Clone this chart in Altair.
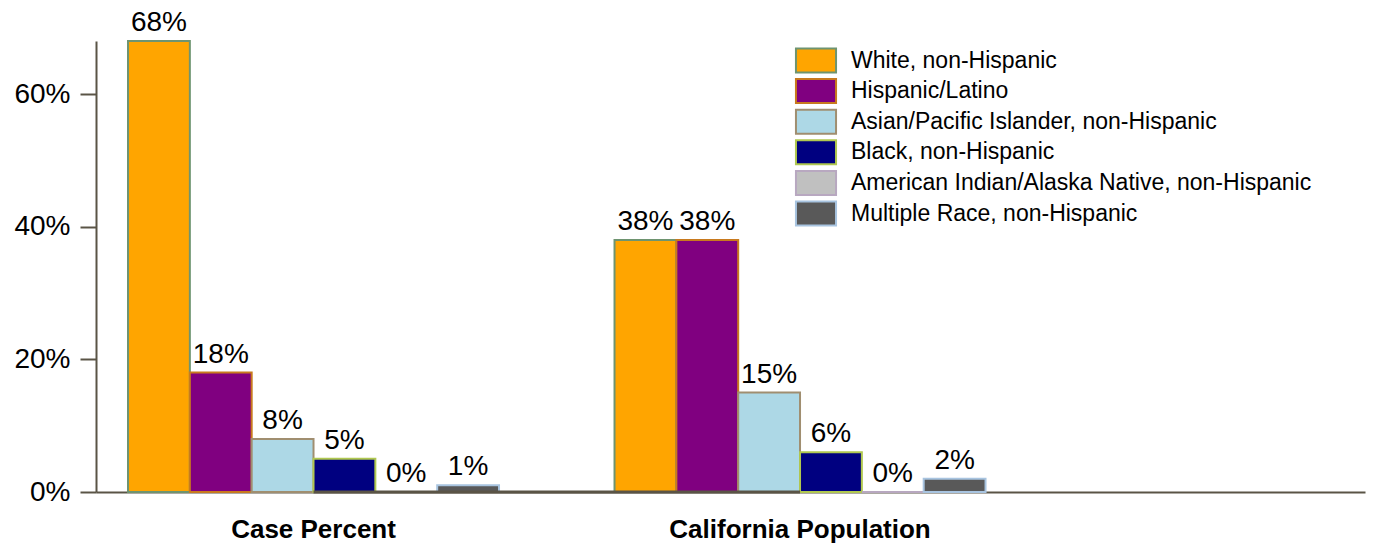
import altair as alt
import pandas as pd

groups = ["Case Percent", "California Population"]
races = [
    "White, non-Hispanic",
    "Hispanic/Latino",
    "Asian/Pacific Islander, non-Hispanic",
    "Black, non-Hispanic",
    "American Indian/Alaska Native, non-Hispanic",
    "Multiple Race, non-Hispanic",
]
case_pct = [68, 18, 8, 5, 0, 1]
pop_pct = [38, 38, 15, 6, 0, 2]

fills = ["#FFA500", "#800080", "#ADD8E6", "#000080", "#C0C0C0", "#595959"]
strokes = ["#6E9470", "#C87A1E", "#A08E70", "#B0C850", "#B8A8C0", "#A8C4E0"]

rows = []
for g, vals in zip(groups, [case_pct, pop_pct]):
    for r, v in zip(races, vals):
        rows.append({"group": g, "race": r, "value": v / 100.0, "label": f"{v}%"})
df = pd.DataFrame(rows)

FONT = "Liberation Sans"
AXIS_COLOR = "#5A5446"

x_scale = alt.Scale(domain=groups, paddingInner=0.2374, paddingOuter=0.4229, align=0.0778)
xo_scale = alt.Scale(domain=races, paddingInner=0, paddingOuter=0)
y_scale = alt.Scale(domain=[0, 0.68], nice=False, zero=True)

base = alt.Chart(df)

bars = base.mark_bar(strokeWidth=2).encode(
    x=alt.X("group:N", scale=x_scale, sort=groups, title=None,
            axis=alt.Axis(labelAngle=0, labelFontSize=26, labelFontWeight="bold",
                          labelColor="black", ticks=False, labelPadding=24,
                          labelLimit=1000,
                          domainColor=AXIS_COLOR, domainWidth=2, labelFont=FONT)),
    xOffset=alt.XOffset("race:N", scale=xo_scale, sort=races),
    y=alt.Y("value:Q", scale=y_scale, title=None,
            axis=alt.Axis(values=[0, 0.2, 0.4, 0.6], format=".0%", grid=False,
                          labelFontSize=28, labelColor="black", labelFont=FONT,
                          tickSize=16, tickWidth=2, tickColor=AXIS_COLOR,
                          domainColor=AXIS_COLOR, domainWidth=2, labelPadding=10)),
    fill=alt.Fill("race:N", scale=alt.Scale(domain=races, range=fills), title=None,
                  legend=alt.Legend(orient="none", legendX=707, legendY=6.5,
                                    symbolType="M-1.67,-1H1.67V1H-1.67Z", symbolSize=576,
                                    symbolStrokeWidth=2, labelFontSize=23,
                                    labelFont=FONT, labelColor="black", labelLimit=1000,
                                    labelOffset=22, rowPadding=-1.4, padding=0)),
    stroke=alt.Stroke("race:N", scale=alt.Scale(domain=races, range=strokes), title=None),
)

base_line = alt.Chart(pd.DataFrame({"a": [0]})).mark_rule(
    color=AXIS_COLOR, strokeWidth=3
).encode(
    x=alt.X(datum="Case Percent", scale=x_scale),
    x2=alt.X2(datum="California Population"),
    y=alt.Y(datum=0, scale=y_scale),
)

labels = base.mark_text(fontSize=28, font=FONT, color="black", baseline="alphabetic", dy=-10).encode(
    x=alt.X("group:N", scale=x_scale, sort=groups),
    xOffset=alt.XOffset("race:N", scale=xo_scale, sort=races),
    y=alt.Y("value:Q", scale=y_scale),
    text="label:N",
)

chart = alt.layer(bars, base_line, labels).properties(
    width=1269, height=451,
    autosize=alt.AutoSizeParams(type="none"),
    padding={"left": 88, "top": 33, "right": 5, "bottom": 52},
).configure(font=FONT, view=alt.ViewConfig(stroke=None))

chart.save("out.html", embed_options={"renderer": "svg", "actions": False})
